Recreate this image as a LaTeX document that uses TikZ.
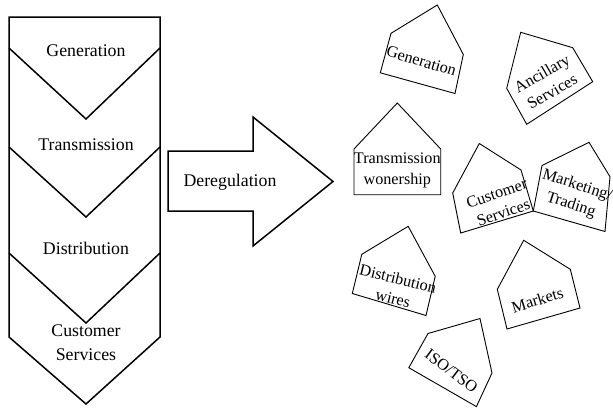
\documentclass[tikz,border=0pt]{standalone}
\usepackage{fontspec}
\setmainfont{Liberation Serif}
\begin{document}
\begin{tikzpicture}[x=1pt,y=-1pt,
  chain/.style={line width=1.5pt, line join=miter},
  house/.style={line width=0.9pt, line join=miter},
  bigtext/.style={font=\fontsize{17.8}{24}\selectfont, align=center, inner sep=0pt},
  housetext/.style={font=\fontsize{16.2}{20.5}\selectfont, align=center, inner sep=0pt}]
\useasboundingbox (0,0) rectangle (613,408);

% vertically integrated value chain
\draw[chain] (9,17) -- (160,17) -- (160,337) -- (86,404) -- (9,337) -- cycle;
\draw[chain] (9,48) -- (86,119) -- (160,48);
\draw[chain] (9,147) -- (86,217) -- (160,147);
\draw[chain] (9,253) -- (86,323) -- (160,253);
\node[bigtext] (vgen) at (86,51) {Generation};
\node[bigtext] (vtra) at (86,145) {Transmission};
\node[bigtext] (vdis) at (86,248) {Distribution};
\node[bigtext] (vcus) at (86,343) {Customer\\Services};

% block arrow
\draw[chain] (168,151) -- (253,151) -- (253,117) -- (333,181.5) -- (253,246)
  -- (253,211) -- (168,211) -- cycle;
\node[bigtext] (dereg) at (230,182.5) {Deregulation};

% unbundled functions
\draw[house] (437.3,5) -- (463.3,54.5) -- (455,93.5) -- (380.3,72.8) -- (391,33.3) -- cycle;
\node[housetext, rotate=-16.5] (hgen) at (421.5,61) {Generation};

\draw[house] (520.7,32.3) -- (572.7,47.7) -- (592.7,81.7) -- (526.7,124.3) -- (506.7,88.3) -- cycle;
\node[housetext, rotate=30] (hanc) at (547,82.5) {Ancillary\\Services};

\draw[house] (397.3,103) -- (440.7,149) -- (440.7,194.7) -- (354,194.7) -- (354,149) -- cycle;
\node[housetext] (htra) at (397.3,170.5) {Transmission\\wonership};

\draw[house] (479.3,143.5) -- (521,170) -- (533.3,211) -- (460.7,233) -- (452.7,193) -- cycle;
\node[housetext, rotate=19] (hcus) at (500,203) {Customer\\Services};

\draw[house] (589,142.3) -- (610,176.7) -- (605,231.5) -- (533.3,211) -- (542,165.5) -- cycle;
\node[housetext, rotate=-18] (hmar) at (574,195.5) {Marketing/\\Trading};

\draw[house] (408.2,226.3) -- (435.2,276.3) -- (426,315.5) -- (352.3,293.5) -- (361.8,254.3) -- cycle;
\node[housetext, rotate=-14] (hdis) at (395.5,288.5) {Distribution\\wires};

\draw[house] (523.7,240.3) -- (570.3,269.3) -- (580,308) -- (507,329) -- (497.3,289.3) -- cycle;
\node[housetext, rotate=17] (hmkt) at (537.3,300) {Markets};

\draw[house] (480,318.5) -- (492,373) -- (476.4,406.6) -- (408.8,367.7) -- (428,333.5) -- cycle;
\node[housetext, rotate=-37] (hiso) at (451.5,371) {ISO/TSO};
\end{tikzpicture}
\end{document}
